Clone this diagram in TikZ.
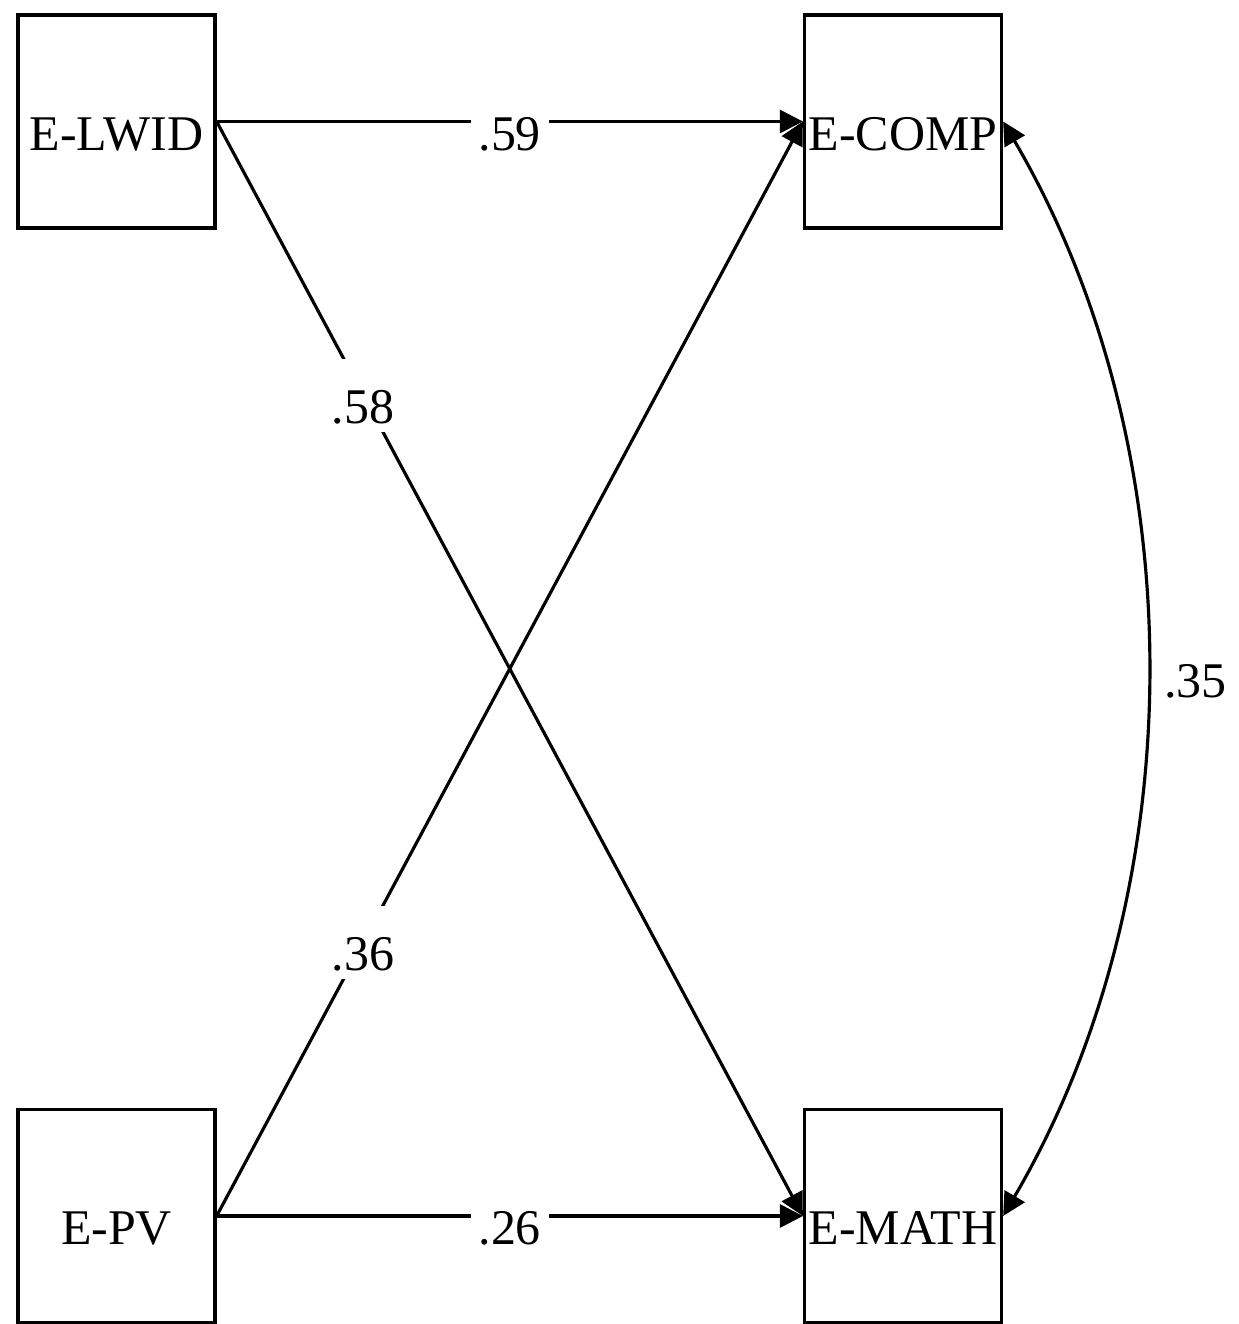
\documentclass[tikz,border=0pt]{standalone}
\usepackage{fontspec}
\setmainfont{Liberation Serif}
\usetikzlibrary{arrows.meta}

\begin{document}
\begin{tikzpicture}[
            x=0.01cm,y=-0.01cm,
            font=\fontsize{14.2pt}{16.5pt}\selectfont,
            txt/.style={text height=0.57cm, text depth=0pt},
            var/.style={txt, draw, line width=0.9pt, minimum width=1.97cm, minimum height=2.13cm, inner sep=0pt},
            coef/.style={txt, fill=white, inner sep=0.08cm},
            arr/.style={-{Triangle[length=0.23cm,width=0.23cm]}, line width=0.9pt},
            dbl/.style={{Triangle[length=0.23cm,width=0.23cm]}-{Triangle[length=0.23cm,width=0.23cm]}, line width=0.9pt}
        ]
            \useasboundingbox (0,0) rectangle (1238,1324);

            % observed variables
            \node[var] (lwid) at (116.5,121.5) {E-LWID};
            \node[var] (comp) at (903,121.5) {E-COMP};
            \node[var] (pv) at (116.5,1216) {E-PV};
            \node[var] (math) at (903,1216) {E-MATH};

            % paths
            \draw[arr] (lwid.east) -- node[coef, pos=0.5] {.59} (comp.west);
            \draw[arr] (lwid.east) -- node[coef, pos=0.25] {.58} (math.west);
            \draw[arr] (pv.east) -- node[coef, pos=0.25] {.36} (comp.west);
            \draw[arr] (pv.east) -- node[coef, pos=0.5] {.26} (math.west);

            % covariance
            \draw[dbl] (comp.east) .. controls +(192,328) and +(192,-328) .. node[txt, right=0.04cm, pos=0.5] {.35} (math.east);
        \end{tikzpicture}
\end{document}
